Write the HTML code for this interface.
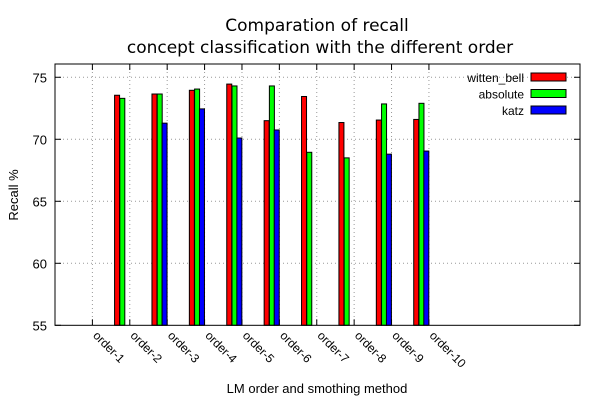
<!DOCTYPE html>
<html><head><meta charset="utf-8"><style>
body{margin:0;background:#fff}
svg{display:block;font-family:"Liberation Sans",sans-serif}
</style></head><body>
<svg id="chart" width="600" height="400"></svg>
<script>
const categories=["order-1","order-2","order-3","order-4","order-5","order-6","order-7","order-8","order-9","order-10"];
const seriesNames=["witten_bell","absolute","katz"];
const wittenBell=[73.55,73.65,73.95,74.45,71.5,73.45,71.35,71.55,71.6];
const absoluteVals=[73.3,73.65,74.05,74.3,74.3,68.95,68.5,72.85,72.9];
const katzVals=[null,71.3,72.45,70.1,70.75,null,null,68.8,69.05];
const yTicks=[55,60,65,70,75];
const colors=["#ff0000","#00ff00","#0000ff"];
const L=55,R=580,T=64,B=325.3;
const xMin=-1,xMax=13.04,yMin=55,yMax=76.07;
const X=v=>L+(v-xMin)/(xMax-xMin)*(R-L);
const Y=v=>B-(v-yMin)/(yMax-yMin)*(B-T);
const svg=document.getElementById('chart');
const NS="http://www.w3.org/2000/svg";
function mk(t,a,p){const e=document.createElementNS(NS,t);for(const k in a)e.setAttribute(k,a[k]);(p||svg).appendChild(e);return e;}
// grid + ticks
yTicks.forEach(v=>{
  const y=Y(v);
  if(v>yMin){const g=mk('line',{x1:L,x2:R,y1:y,y2:y,stroke:'#999','stroke-dasharray':'1,3'});
  
  }
  mk('line',{x1:L,x2:L+6,y1:y,y2:y,stroke:'#000'});
  mk('line',{x1:R-6,x2:R,y1:y,y2:y,stroke:'#000'});
  const t=mk('text',{x:L-8,y:y+5,'text-anchor':'end','font-size':13});
  t.textContent=v;
  
  
});
categories.forEach((c,i)=>{
  const x=X(i);
  const g=mk('line',{x1:x,x2:x,y1:T,y2:B,stroke:'#999','stroke-dasharray':'1,3'});
  
  
  mk('line',{x1:x,x2:x,y1:B,y2:B-6,stroke:'#000'});
  mk('line',{x1:x,x2:x,y1:T,y2:T+6,stroke:'#000'});
  const t=mk('text',{x:x,y:B+11,'font-size':12,transform:`rotate(45 ${x} ${B+11})`});
  t.textContent=c;
  
  
});
// bars
const series=[wittenBell,absoluteVals,katzVals];
const offs=[0.66,0.8,0.93];
series.forEach((s,si)=>{
  s.forEach((v,i)=>{
    if(v==null)return;
    const cx=X(i+offs[si]);
    const y=Y(v);
    const r=mk('rect',{x:cx-2.5,y:y,width:5,height:B-y,fill:colors[si],stroke:'#000','stroke-width':1});
    
    
  });
});
// border
const bd=mk('rect',{x:L,y:T,width:R-L,height:B-T,fill:'none',stroke:'#000','stroke-width':1});


// legend
seriesNames.forEach((n,i)=>{
  const y=77+i*16.5;
  const t=mk('text',{x:524,y:y+5,'text-anchor':'end','font-size':12});
  t.textContent=n;
  
  
  const r=mk('rect',{x:531,y:y-4,width:35,height:8,fill:colors[i],stroke:'#000'});
  
  
});
// titles
const t1=mk('text',{x:317,y:31,'text-anchor':'middle','font-size':17,'font-family':'DejaVu Sans, sans-serif'});
t1.textContent='Comparation of recall';


const t2=mk('text',{x:320,y:53,'text-anchor':'middle','font-size':17,'font-family':'DejaVu Sans, sans-serif'});
t2.textContent='concept classification with the different order';


const xl=mk('text',{x:317,y:393,'text-anchor':'middle','font-size':13});
xl.textContent='LM order and smothing method';


const yl=mk('text',{x:18,y:195,'text-anchor':'middle','font-size':13,transform:'rotate(-90 18 195)'});
yl.textContent='Recall %';


</script>
</body></html>
